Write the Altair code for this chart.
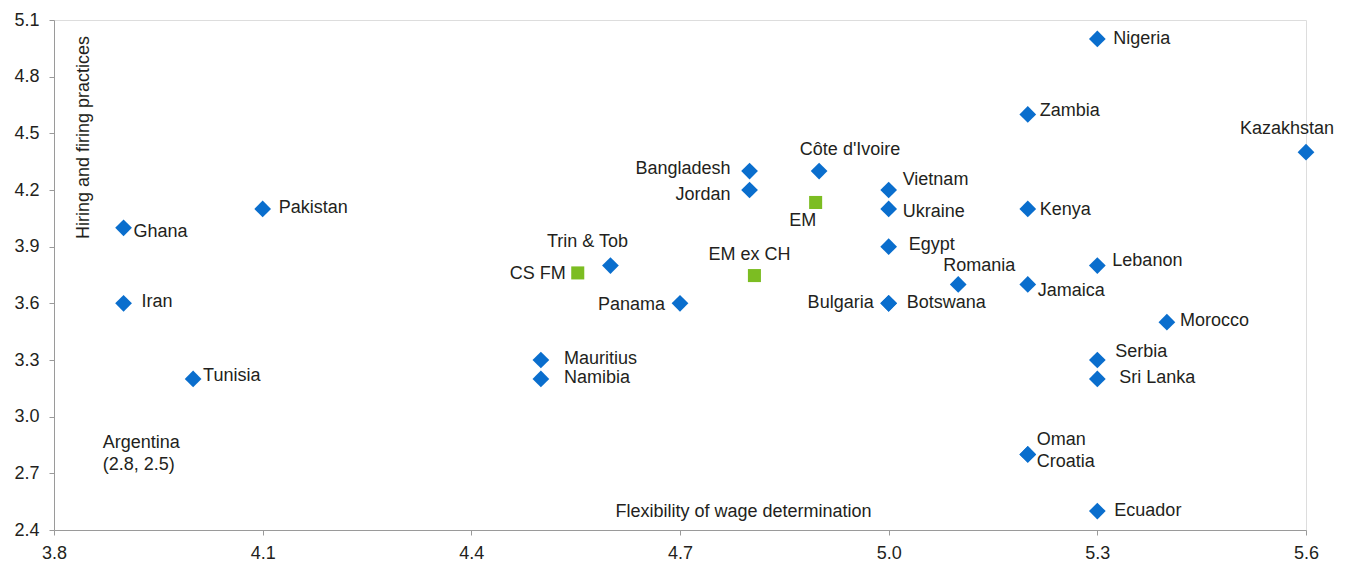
import altair as alt
import pandas as pd

# ---- data ----
countries = ["Nigeria", "Zambia", "Kazakhstan", "Bangladesh", "Côte d'Ivoire", "Jordan",
             "Vietnam", "Ukraine", "Kenya", "Pakistan", "Ghana", "Egypt", "Trin & Tob",
             "Lebanon", "Romania", "Jamaica", "Iran", "Panama", "Bulgaria", "Botswana",
             "Morocco", "Mauritius", "Serbia", "Namibia", "Tunisia", "Sri Lanka",
             "Oman", "Croatia", "Ecuador"]
wage_flex = [5.3, 5.2, 5.6, 4.8, 4.9, 4.8,
             5.0, 5.0, 5.2, 4.1, 3.9, 5.0, 4.6,
             5.3, 5.1, 5.2, 3.9, 4.7, 5.0, 5.0,
             5.4, 4.5, 5.3, 4.5, 4.0, 5.3,
             5.2, 5.2, 5.3]
hiring_firing = [5.0, 4.6, 4.4, 4.3, 4.3, 4.2,
                 4.2, 4.1, 4.1, 4.1, 4.0, 3.9, 3.8,
                 3.8, 3.7, 3.7, 3.6, 3.6, 3.6, 3.6,
                 3.5, 3.3, 3.3, 3.2, 3.2, 3.2,
                 2.8, 2.8, 2.5]

aggregates = ["EM", "EM ex CH", "CS FM"]
agg_wage_flex = [4.895, 4.807, 4.553]
agg_hiring_firing = [4.134, 3.747, 3.761]

note_lines = ["Argentina", "(2.8, 2.5)"]
note_x = [3.87, 3.87]
note_y = [2.86, 2.86]

x_ticks = [3.8, 4.1, 4.4, 4.7, 5.0, 5.3, 5.6]
y_ticks = [2.4, 2.7, 3.0, 3.3, 3.6, 3.9, 4.2, 4.5, 4.8, 5.1]

x_title = "Flexibility of wage determination"
y_title = "Hiring and firing practices"

# ---- label placement (styling: pixel offsets and alignment) ----
placement = {
    "Nigeria": (16, 0, "left"), "Zambia": (12, -3, "left"), "Kazakhstan": (-19, -23, "center"),
    "Bangladesh": (-19, -2, "right"), "Côte d'Ivoire": (31, -21, "center"), "Jordan": (-19, 5, "right"),
    "Vietnam": (14, -10, "left"), "Ukraine": (14, 3, "left"), "Kenya": (12, 1, "left"),
    "Pakistan": (16, -1, "left"), "Ghana": (10, 4, "left"), "Egypt": (20, -2, "left"),
    "Trin & Tob": (-23, -24, "center"), "Lebanon": (15, -5, "left"), "Romania": (21, -18, "center"),
    "Jamaica": (10, 7, "left"), "Iran": (18, -1, "left"), "Panama": (-15, 2, "right"),
    "Bulgaria": (-15, 0, "right"), "Botswana": (18, 0, "left"), "Morocco": (13, -1, "left"),
    "Mauritius": (23, -1, "left"), "Serbia": (18, -8, "left"), "Namibia": (23, -1, "left"),
    "Tunisia": (10, -3, "left"), "Sri Lanka": (22, -1, "left"), "Oman": (9, -14, "left"),
    "Croatia": (9, 8, "left"), "Ecuador": (17, 0, "left"),
    "EM": (-13, 19, "center"), "EM ex CH": (-5, -21, "center"), "CS FM": (-12, 1, "right"),
}

FONT = "Liberation Sans"
TEXT_COLOR = "#231f20"
BLUE = "#0a6ecd"
GREEN = "#7cbd22"
FS = 18

df_c = pd.DataFrame({"name": countries, "x": wage_flex, "y": hiring_firing})
df_a = pd.DataFrame({"name": aggregates, "x": agg_wage_flex, "y": agg_hiring_firing})
df_all = pd.concat([df_c, df_a], ignore_index=True)
df_note = pd.DataFrame({"t": note_lines, "x": note_x, "y": note_y, "line": [0, 1]})

xs = alt.Scale(domain=[3.8, 5.6], nice=False, zero=False)
ys = alt.Scale(domain=[2.4, 5.1], nice=False, zero=False)

x_axis = alt.Axis(values=x_ticks, format=".1f", grid=False, domainColor="#9a9a9a", tickColor="#9a9a9a",
                  tickSize=5, labelFont=FONT, labelFontSize=18, labelColor=TEXT_COLOR, labelPadding=9,
                  title=x_title, titleFont=FONT, titleFontSize=FS, titleFontWeight="normal",
                  titleColor=TEXT_COLOR, titleX=689, titleY=-19, titleAlign="center", titleBaseline="middle",
                  labelFlush=False)
y_axis = alt.Axis(values=y_ticks, format=".1f", grid=False, domainColor="#9a9a9a", tickColor="#9a9a9a",
                  tickSize=5, labelFont=FONT, labelFontSize=18, labelColor=TEXT_COLOR, labelPadding=10,
                  title=y_title, titleFont=FONT, titleFontSize=FS, titleFontWeight="normal",
                  titleColor=TEXT_COLOR, titleX=29, titleY=117, titleAngle=-90, titleAlign="center",
                  titleBaseline="middle", labelFlush=False)

base_c = alt.Chart(df_c)
points = base_c.mark_point(shape="diamond", filled=True, size=280, color=BLUE, opacity=1).encode(
    x=alt.X("x:Q", scale=xs, axis=x_axis),
    y=alt.Y("y:Q", scale=ys, axis=y_axis),
)
squares = alt.Chart(df_a).mark_point(shape="square", filled=True, size=170, color=GREEN, opacity=1).encode(
    x=alt.X("x:Q", scale=xs), y=alt.Y("y:Q", scale=ys)
)

layers = [points, squares]
for name, (dx, dy, align) in placement.items():
    layers.append(
        alt.Chart(df_all).transform_filter(alt.datum.name == name).mark_text(
            dx=dx, dy=dy, align=align, baseline="middle", font=FONT, fontSize=FS, color=TEXT_COLOR
        ).encode(x=alt.X("x:Q", scale=xs), y=alt.Y("y:Q", scale=ys), text="name:N")
    )

for i in range(len(note_lines)):
    layers.append(
        alt.Chart(df_note).transform_filter(alt.datum.line == i).mark_text(
            align="left", baseline="middle", dy=22 * i, font=FONT, fontSize=FS, color=TEXT_COLOR
        ).encode(x=alt.X("x:Q", scale=xs), y=alt.Y("y:Q", scale=ys), text="t:N")
    )

chart = alt.layer(*layers).properties(
    width=1252, height=510,
    autosize=alt.AutoSizeParams(type="none"),
    padding={"left": 46, "top": 12, "right": 30, "bottom": 36},
).configure_view(stroke=None).configure(background="white")

chart.save("out.html", embed_options={"renderer": "svg", "actions": False})
